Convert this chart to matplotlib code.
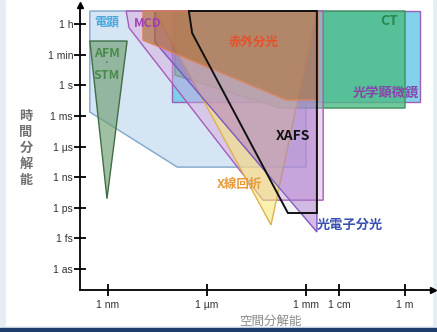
import matplotlib.pyplot as plt
from matplotlib.patches import Rectangle

# x: log10(spatial resolution in m), y: time level (0 = 1 as ... 8 = 1 h)
x_ticks = [-9, -6, -3, -2, 0]
x_labels = ["1 nm", "1 µm", "1 mm", "1 cm", "1 m"]
y_ticks = [0, 1, 2, 3, 4, 5, 6, 7, 8]
y_labels = ["1 as", "1 fs", "1 ps", "1 ns", "1 µs", "1 ms", "1 s", "1 min", "1 h"]

em_x = [-9.55, -3.0, -3.0, -6.9, -9.55]
em_y = [8.43, 8.43, 3.33, 3.33, 5.13]
opt_x = [-7.06, 0.45, 0.45, -7.06]
opt_y = [8.43, 8.43, 5.46, 5.46]
ct_x = [-6.97, 0.0, 0.0, -3.8, -6.97]
ct_y = [8.43, 8.43, 5.26, 5.26, 6.34]
mcd_x = [-8.45, -2.48, -2.48, -4.3, -8.36]
mcd_y = [8.43, 8.43, 2.25, 2.25, 7.88]
xrd_x = [-7.58, -2.67, -4.06]
xrd_y = [8.43, 8.43, 1.44]
pes_x = [-7.58, -2.67, -2.67, -7.58]
pes_y = [8.43, 8.43, 1.21, 7.42]
ir_x = [-7.94, -2.64, -2.64, -3.6, -7.94]
ir_y = [8.43, 8.43, 5.52, 5.52, 7.48]
xafs_x = [-6.55, -2.67, -2.67, -3.55, -6.45]
xafs_y = [8.43, 8.43, 1.83, 1.83, 7.71]
afm_x = [-9.55, -8.42, -9.03]
afm_y = [7.45, 7.45, 2.3]

jp = ["Noto Sans CJK JP", "DejaVu Sans"]
plt.rcParams["font.family"] = ["Liberation Sans", "DejaVu Sans"]

fig = plt.figure(figsize=(4.37, 3.32), dpi=100)
fig.patch.set_facecolor("#e6edf5")
fig.patches.append(Rectangle((6 / 437, 7 / 332), 426 / 437, 325 / 332,
                             transform=fig.transFigure, color="white", zorder=-5))
fig.patches.append(Rectangle((0, 0), 1, 4 / 332, transform=fig.transFigure,
                             color="#1f3d6c", zorder=-5))

ax = fig.add_axes([80 / 437, 42 / 332, 353 / 437, 285 / 332])
ax.set_facecolor("none")
ax.set_xlim(-9.848, 0.848)
ax.set_ylim(-0.686, 8.627)

shapes = [
    (em_x, em_y, "#d6e5f4", 1.0, "#7fa6cc"),
    (opt_x, opt_y, "#74cdea", 0.9, "#9b5fb5"),
    (ct_x, ct_y, "#4cbc84", 0.8, "#3d8f5f"),
    (mcd_x, mcd_y, "#d9a6dc", 0.45, "#a65cb8"),
    (xrd_x, xrd_y, "#f7e67a", 0.6, "#e0b050"),
    (pes_x, pes_y, "#a468d0", 0.45, "#7a58c0"),
    (ir_x, ir_y, "#b06a28", 0.62, "#e0805a"),
    (xafs_x, xafs_y, "#b0b0c0", 0.15, "#111111"),
    (afm_x, afm_y, "#6e9e72", 0.65, "#3f6e45"),
]
for xs, ys, fc, a, ec in shapes:
    ax.fill(xs, ys, facecolor=fc, alpha=a, edgecolor="none")
    ax.fill(xs, ys, facecolor="none", edgecolor=ec,
            lw=1.4 if ec == "#111111" else 1.0)

for sp in ["top", "right"]:
    ax.spines[sp].set_visible(False)
for sp in ["left", "bottom"]:
    ax.spines[sp].set_linewidth(1.3)
ax.plot(1, 0, ">k", ms=4, transform=ax.transAxes, clip_on=False)
ax.plot(0, 1, "^k", ms=4, transform=ax.transAxes, clip_on=False)

ax.set_xticks(x_ticks)
ax.set_xticklabels(x_labels)
ax.set_yticks(y_ticks)
ax.set_yticklabels(y_labels)
ax.tick_params(direction="inout", length=8, width=1.3, labelsize=7.5,
               labelcolor="#333333")
ax.tick_params(axis="y", pad=1)
ax.tick_params(axis="x", pad=3)

fig.text(26 / 437, 1 - 148 / 332, "\n".join("時間分解能"), family=jp,
         fontsize=9.5, fontweight="bold", color="#707070", ha="center",
         va="center", linespacing=1.2)
fig.text(270 / 437, 1 - 321 / 332, "空間分解能", family=jp, fontsize=9,
         color="#8a8a8a", ha="center", va="center")

labels = [
    (-9.03, 8.07, "電顕", "#4aa8dc", 9),
    (-7.79, 8.01, "MCD", "#a040b0", 9),
    (-9.03, 7.05, "AFM", "#4a8a4a", 9),
    (-9.03, 6.72, "·", "#4a8a4a", 7),
    (-9.03, 6.32, "STM", "#4a8a4a", 9),
    (-4.58, 7.42, "赤外分光", "#e8502a", 9),
    (-0.49, 8.10, "CT", "#2a8850", 10),
    (-0.58, 5.75, "光学顕微鏡", "#8844aa", 9.5),
    (-3.39, 4.35, "XAFS", "#111111", 10),
    (-5.0, 2.75, "X線回折", "#e89a3a", 9),
    (-1.67, 1.44, "光電子分光", "#3a50b0", 9.5),
]
for x, y, s, c, fs in labels:
    ax.text(x, y, s, color=c, fontsize=fs, fontweight="bold", family=jp,
            ha="center", va="center")

fig.savefig("out.png", dpi=100, facecolor=fig.get_facecolor())
